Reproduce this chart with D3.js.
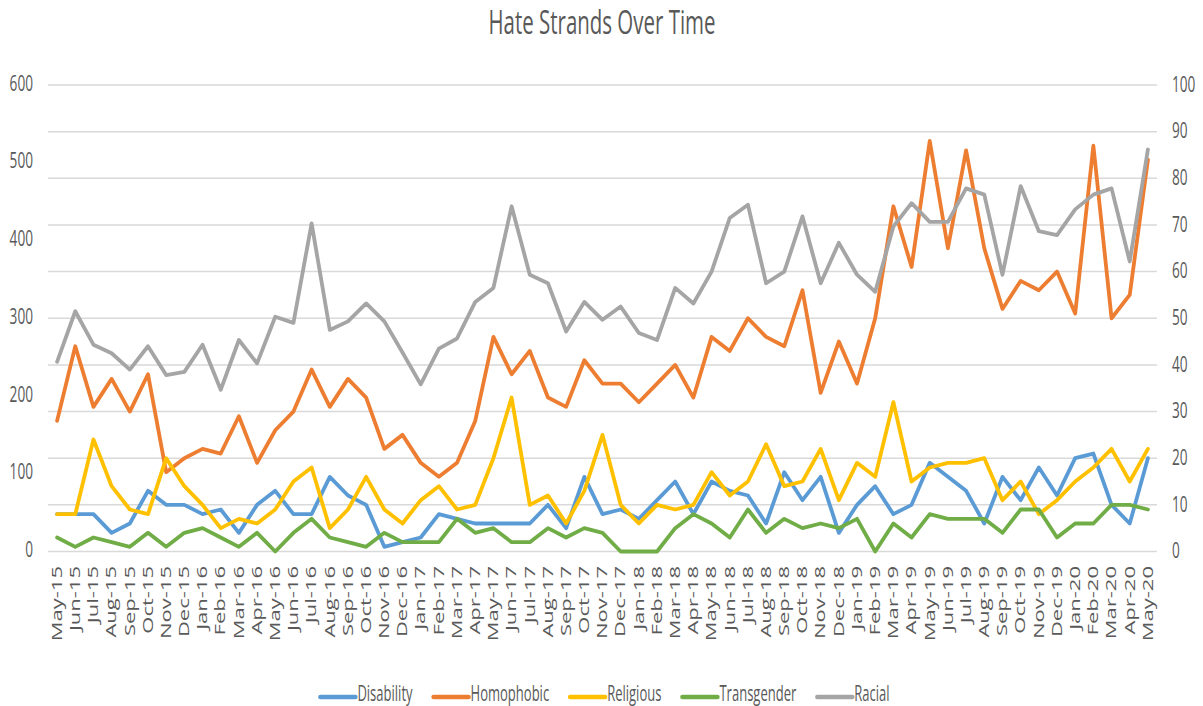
<!DOCTYPE html>
<html>
<head>
  <meta charset="UTF-8">
  <style>
    body { margin: 0; background: #fff; }
    text { font-family: "Open Sans", sans-serif; fill: #595959; }
  </style>
</head>
<body>
<div id="chart"></div>
<script src="https://d3js.org/d3.v7.min.js"></script>
<script>

// months on the x axis
var months = ["May-15","Jun-15","Jul-15","Aug-15","Sep-15","Oct-15","Nov-15","Dec-15",
  "Jan-16","Feb-16","Mar-16","Apr-16","May-16","Jun-16","Jul-16","Aug-16","Sep-16","Oct-16","Nov-16","Dec-16",
  "Jan-17","Feb-17","Mar-17","Apr-17","May-17","Jun-17","Jul-17","Aug-17","Sep-17","Oct-17","Nov-17","Dec-17",
  "Jan-18","Feb-18","Mar-18","Apr-18","May-18","Jun-18","Jul-18","Aug-18","Sep-18","Oct-18","Nov-18","Dec-18",
  "Jan-19","Feb-19","Mar-19","Apr-19","May-19","Jun-19","Jul-19","Aug-19","Sep-19","Oct-19","Nov-19","Dec-19",
  "Jan-20","Feb-20","Mar-20","Apr-20","May-20"];

// right axis series
var disability = [8,8,8,4,6,13,10,10,8,9,4,10,13,8,8,16,12,10,1,2,
  3,8,7,6,6,6,6,10,5,16,8,9,7,11,15,8,15,13,12,6,
  17,11,16,4,10,14,8,10,19,16,13,6,16,11,18,12,20,21,10,6,20];
var homophobic = [28,44,31,37,30,38,17,20,22,21,29,19,26,30,39,31,37,33,22,25,
  19,16,19,28,46,38,43,33,31,41,36,36,32,36,40,33,46,43,50,46,
  44,56,34,45,36,50,74,61,88,65,86,65,52,58,56,60,51,87,50,55,84];
var religious = [8,8,24,14,9,8,20,14,10,5,7,6,9,15,18,5,9,16,9,6,
  11,14,9,10,20,33,10,12,6,13,25,10,6,10,9,10,17,12,15,23,
  14,15,22,11,19,16,32,15,18,19,19,20,11,15,8,11,15,18,22,15,22];
var transgender = [3,1,3,2,1,4,1,4,5,3,1,4,0,4,7,3,2,1,4,2,
  2,2,7,4,5,2,2,5,3,5,4,0,0,0,5,8,6,3,9,4,
  7,5,6,5,7,0,6,3,8,7,7,7,4,9,9,3,6,6,10,10,9];
// left axis series
var racial = [244,309,266,255,234,264,227,231,266,208,272,242,302,294,422,285,296,319,296,256,
  215,261,274,321,339,444,356,345,283,321,298,315,281,272,339,319,360,429,446,345,
  360,431,345,397,356,334,418,448,424,424,467,459,356,470,412,407,440,459,467,373,517];

var leftTicks = [0,100,200,300,400,500,600];
var rightTicks = [0,10,20,30,40,50,60,70,80,90,100];

var seriesNames = ["Disability","Homophobic","Religious","Transgender","Racial"];
var colors = {Disability:"#5B9BD5", Homophobic:"#ED7D31", Religious:"#FFC000", Transgender:"#70AD47", Racial:"#A5A5A5"};

var W = 1203, H = 706;
var plot = {left: 48, right: 1157, top: 85, bottom: 551.5};
var SX = 0.62; // glyphs are squeezed horizontally in the reference

var svg = d3.select("#chart").append("svg")
  .attr("width", W).attr("height", H);

var x = d3.scalePoint().domain(months).range([plot.left, plot.right]).padding(0.5);
var yL = d3.scaleLinear().domain([0, 600]).range([plot.bottom, plot.top]);
var yR = d3.scaleLinear().domain([0, 100]).range([plot.bottom, plot.top]);

// title
svg.append("g")
  .attr("transform", "translate(602,34) scale(" + SX + ",1)")
  .append("text")
  .attr("text-anchor", "middle")
  .attr("font-size", "33px")
  .text("Hate Strands Over Time");

// gridlines
svg.append("g").selectAll("line")
  .data(rightTicks)
  .enter().append("line")
    .attr("x1", plot.left).attr("x2", plot.right)
    .attr("y1", function(d) { return yR(d); })
    .attr("y2", function(d) { return yR(d); })
    .style("stroke", "#D9D9D9")
    .style("stroke-width", 1.5);

// left tick labels
svg.append("g").selectAll("g")
  .data(leftTicks)
  .enter().append("g")
    .attr("transform", function(d) { return "translate(33," + (yL(d) - 2) + ") scale(" + SX + ",1)"; })
  .append("text")
    .attr("text-anchor", "end")
    .attr("dy", "0.35em")
    .attr("font-size", "22px")
    .text(function(d) { return d; });

// right tick labels
svg.append("g").selectAll("g")
  .data(rightTicks)
  .enter().append("g")
    .attr("transform", function(d) { return "translate(1172," + (yR(d) - 1) + ") scale(" + SX + ",1)"; })
  .append("text")
    .attr("text-anchor", "start")
    .attr("dy", "0.35em")
    .attr("font-size", "22px")
    .text(function(d) { return d; });

// month labels, rotated
svg.append("g").selectAll("g")
  .data(months)
  .enter().append("g")
    .attr("transform", function(d) { return "translate(" + x(d) + ",566) scale(" + SX + ",1) rotate(-90)"; })
  .append("text")
    .attr("text-anchor", "end")
    .attr("dy", "0.35em")
    .attr("font-size", "22px")
    .text(function(d) { return d; });

// lines
var dataset = [
  {name: "Disability", values: disability, y: yR},
  {name: "Homophobic", values: homophobic, y: yR},
  {name: "Religious", values: religious, y: yR},
  {name: "Transgender", values: transgender, y: yR},
  {name: "Racial", values: racial, y: yL}
];

dataset.forEach(function(s) {
  var line = d3.line()
    .x(function(d, i) { return x(months[i]); })
    .y(function(d) { return s.y(d); });
  svg.append("path")
    .datum(s.values)
    .attr("d", line)
    .style("fill", "none")
    .style("stroke", colors[s.name])
    .style("stroke-width", 3.8)
    .style("stroke-linejoin", "round")
    .style("stroke-linecap", "round");
});

// legend
var legend = svg.append("g").attr("transform", "translate(0,697)");
var cursor = 0;
var items = [];
seriesNames.forEach(function(name) {
  var g = legend.append("g");
  g.append("line")
    .attr("x1", 0).attr("x2", 35)
    .attr("y1", 0).attr("y2", 0)
    .style("stroke", colors[name])
    .style("stroke-width", 4.5)
    .style("stroke-linecap", "round");
  var t = g.append("g")
    .attr("transform", "translate(37,0) scale(" + SX + ",1)")
    .append("text")
    .attr("y", 4)
    .attr("font-size", "21px")
    .text(name);
  var w = 37 + t.node().getComputedTextLength() * SX;
  items.push({g: g, x: cursor});
  cursor += w + 21;
});
var total = cursor - 21;
var start = 605 - total / 2;
items.forEach(function(it) {
  it.g.attr("transform", "translate(" + (start + it.x) + ",0)");
});

</script>
</body>
</html>
